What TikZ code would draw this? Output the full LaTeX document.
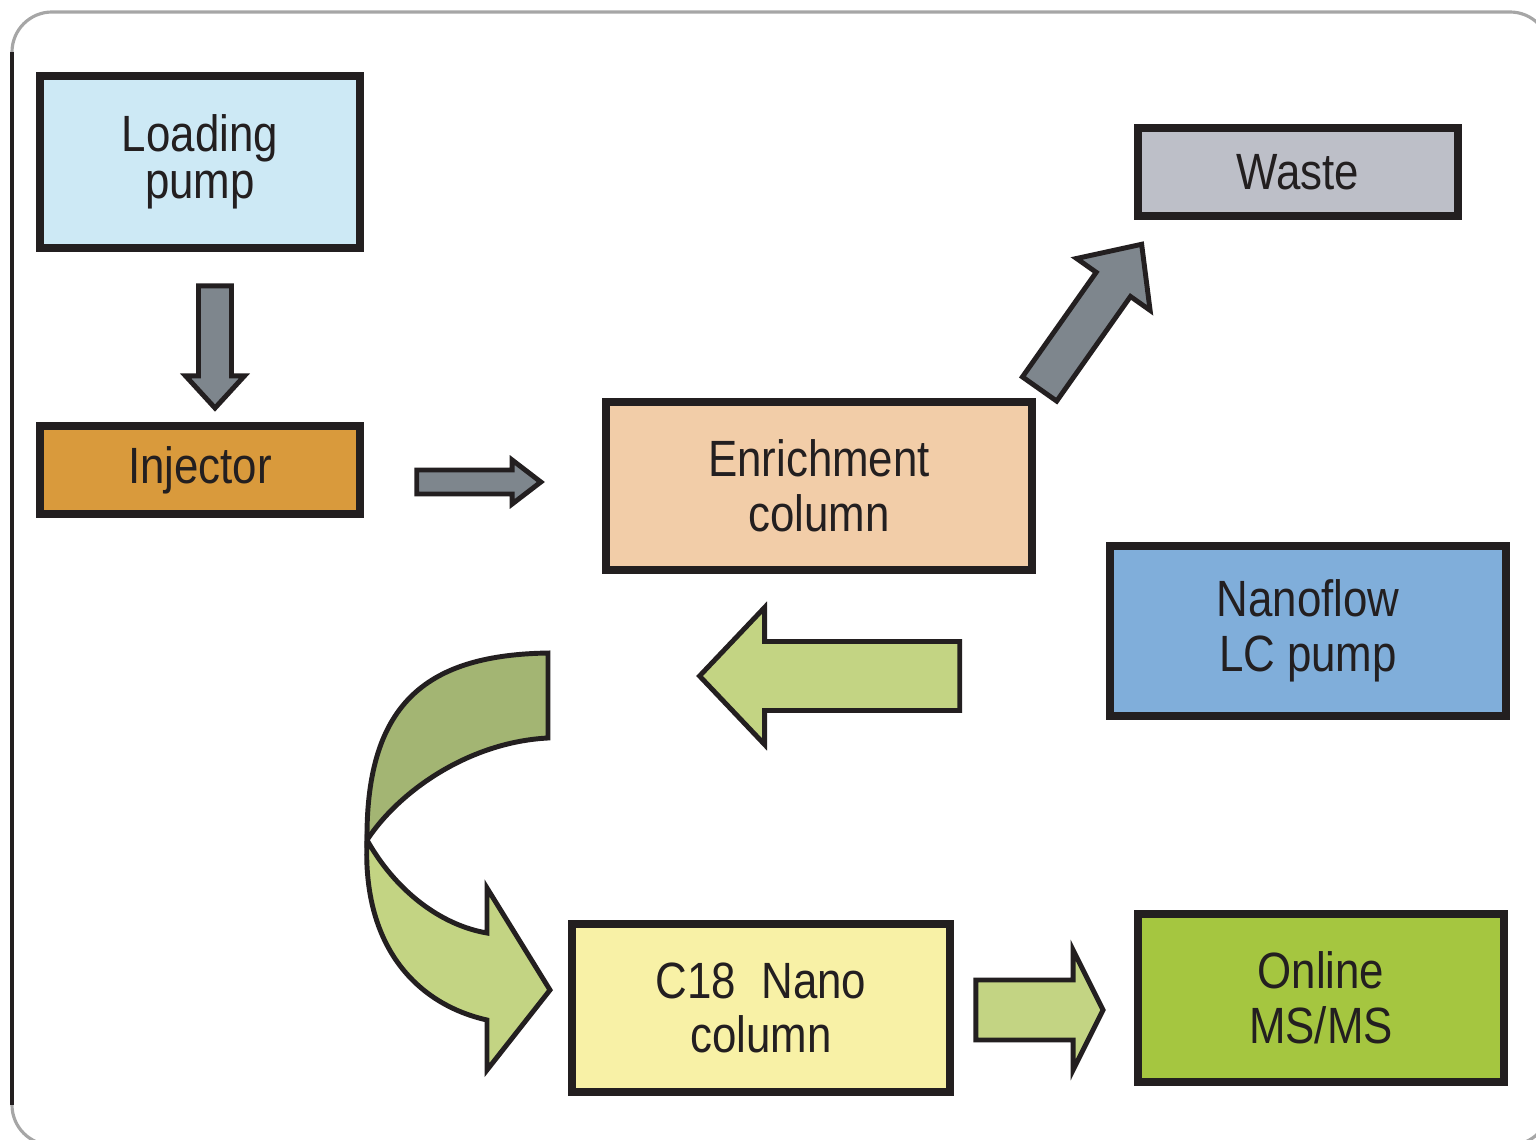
\documentclass[tikz,border=0pt]{standalone}
\usepackage{fontspec}
\setmainfont{Liberation Sans}[FakeStretch=0.86]
\usetikzlibrary{shapes.arrows}

\definecolor{ink}{HTML}{231F20}
\definecolor{pumpblue}{HTML}{CDE9F5}
\definecolor{injorange}{HTML}{D99A3C}
\definecolor{enrpeach}{HTML}{F2CDA8}
\definecolor{wastegray}{HTML}{BDBFC8}
\definecolor{nanoblue}{HTML}{80AEDA}
\definecolor{colyellow}{HTML}{F8F1A6}
\definecolor{msgreen}{HTML}{A5C640}
\definecolor{arrowgray}{HTML}{7E868D}
\definecolor{lightgreen}{HTML}{C3D483}
\definecolor{darkgreen}{HTML}{A3B573}

\begin{document}
\begin{tikzpicture}[x=0.01cm, y=-0.01cm,
    every node/.style={font=\fontsize{14.5}{15.6}\selectfont, text=ink},
    unitbox/.style={draw=ink, line width=2.3pt, inner sep=0pt, align=center},
    blockarrow/.style={single arrow, draw=ink, line width=1.4pt, inner xsep=0pt}]
    \useasboundingbox (0,0) rectangle (1536,1140);
    \clip (0,0) rectangle (1536,1140);

    % frame
    \draw[black!35, line width=0.9pt, rounded corners=0.4cm] (12,12) rectangle (1550,1145);
    \draw[ink, line width=0.9pt] (12,52) -- (12,1105);

    % units
    \node[unitbox, fill=pumpblue, minimum width=3.2cm, minimum height=1.72cm,
      font=\fontsize{14.5}{13.5}\selectfont] (load) at (200,162) {Loading\\pump};
    \node[unitbox, fill=injorange, minimum width=3.2cm, minimum height=0.88cm] (inj) at (200,470) {Injector};
    \node[unitbox, fill=enrpeach, minimum width=4.26cm, minimum height=1.68cm] (enr) at (819,486) {Enrichment\\column};
    \node[unitbox, fill=wastegray, minimum width=3.2cm, minimum height=0.88cm] (waste) at (1298,172) {Waste};
    \node[unitbox, fill=nanoblue, minimum width=3.96cm, minimum height=1.7cm] (nano) at (1308,631) {Nanoflow\\LC pump};
    \node[unitbox, fill=colyellow, minimum width=3.78cm, minimum height=1.68cm] (cnano) at (761,1008) {C18\enspace Nano\\column};
    \node[unitbox, fill=msgreen, minimum width=3.66cm, minimum height=1.68cm] (msms) at (1321,998) {Online\\MS/MS};

    % flow arrows
    \node[blockarrow, fill=arrowgray, minimum height=1.22cm, inner ysep=0.14cm,
      single arrow head extend=0.13cm, single arrow tip angle=85, rotate=-90] (loadinj) at (215,338) {};
    \node[blockarrow, fill=arrowgray, minimum height=1.24cm, inner ysep=0.095cm,
      single arrow head extend=0.1cm, single arrow tip angle=75] (injenr) at (471,482) {};
    \node[blockarrow, fill=arrowgray, minimum height=1.77cm, inner ysep=0.185cm,
      single arrow head extend=0.24cm, single arrow tip angle=85, rotate=54.8] (enrwaste) at (1084,326) {};
    \node[blockarrow, fill=lightgreen, minimum height=2.6cm, inner ysep=0.32cm,
      single arrow head extend=0.34cm, single arrow tip angle=93, rotate=180] (nanoenr) at (846,676) {};
    \node[blockarrow, fill=lightgreen, minimum height=1.27cm, inner ysep=0.275cm,
      single arrow head extend=0.3cm, single arrow tip angle=127] (cnanoms) at (1032,1010) {};

    % curved arrow to the nano column
    \filldraw[fill=lightgreen, draw=ink, line width=1.4pt]
      (367,840) .. controls (395,890) and (440,925) .. (487,933) -- (487,888) -- (550,990)
      -- (487,1070) -- (487,1020) .. controls (420,1005) and (362,950) .. (367,840) -- cycle;
    \filldraw[fill=darkgreen, draw=ink, line width=1.4pt]
      (548,653) -- (548,738) .. controls (470,742) and (400,790) .. (367,840)
      .. controls (366,700) and (430,655) .. (548,653) -- cycle;
\end{tikzpicture}
\end{document}
